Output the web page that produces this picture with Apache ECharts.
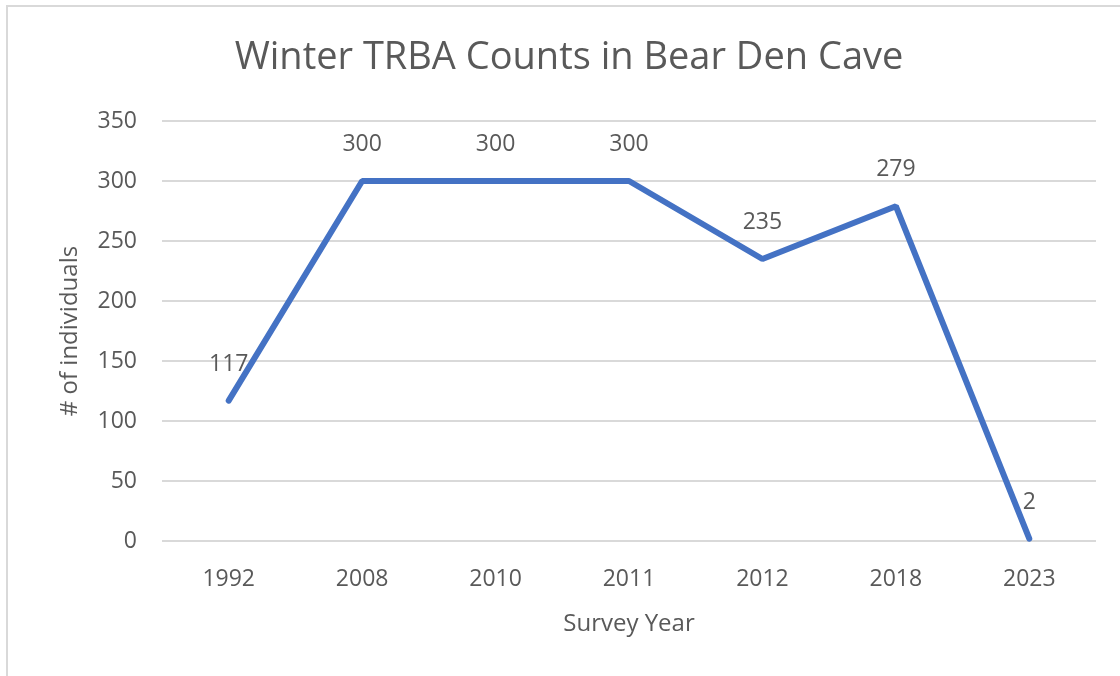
<!DOCTYPE html>
<html>
<head>
<meta charset="utf-8">
<script src="https://cdn.jsdelivr.net/npm/echarts@6/dist/echarts.min.js"></script>
<style>
  html, body { margin: 0; padding: 0; background: #fff; }
  #chart { width: 1120px; height: 676px; }
</style>
</head>
<body>
<div id="chart"></div>
<script>
// survey data
var years = ["1992", "2008", "2010", "2011", "2012", "2018", "2023"];
var counts = [117, 300, 300, 300, 235, 279, 2];

var chartDom = document.getElementById("chart");
var myChart = echarts.init(chartDom);
var textColor = "#595959";
var font = "Open Sans";

var option = {
  backgroundColor: "#fff",
  textStyle: { fontFamily: font },
  graphic: [
    {
      type: "rect",
      shape: { x: 7, y: 6, width: 1200, height: 800 },
      style: { fill: "none", stroke: "#d9d9d9", lineWidth: 2 },
      silent: true
    }
  ],
  title: {
    text: "Winter TRBA Counts in Bear Den Cave",
    left: 564,
    textAlign: "center",
    top: 34,
    textStyle: { fontFamily: font, fontSize: 38, fontWeight: "normal", color: textColor }
  },
  grid: { left: 162, right: 24, top: 121, bottom: 135 },
  xAxis: {
    type: "category",
    data: years,
    boundaryGap: true,
    name: "Survey Year",
    nameLocation: "middle",
    nameGap: 71,
    nameTextStyle: { fontFamily: font, fontSize: 24, color: textColor },
    axisLine: { show: false },
    axisTick: { show: false },
    axisLabel: { margin: 27, fontFamily: font, fontSize: 23, color: textColor }
  },
  yAxis: {
    type: "value",
    min: 0,
    max: 350,
    interval: 50,
    name: "# of individuals",
    nameLocation: "middle",
    nameGap: 80,
    nameTextStyle: { fontFamily: font, fontSize: 24, color: textColor },
    axisLine: { show: false },
    axisTick: { show: false },
    axisLabel: { margin: 25, fontFamily: font, fontSize: 23, color: textColor },
    splitLine: { lineStyle: { color: "#d9d9d9", width: 2 } }
  },
  series: [
    {
      type: "line",
      data: counts,
      symbol: "circle",
      symbolSize: 0,
      showSymbol: true,
      itemStyle: { color: "#4472C4" },
      lineStyle: { color: "#4472C4", width: 6, cap: "round" },
      label: {
        show: true,
        position: "top",
        distance: 25,
        fontFamily: font,
        fontSize: 23,
        color: textColor
      }
    }
  ]
};
option && myChart.setOption(option);
</script>
</body>
</html>
